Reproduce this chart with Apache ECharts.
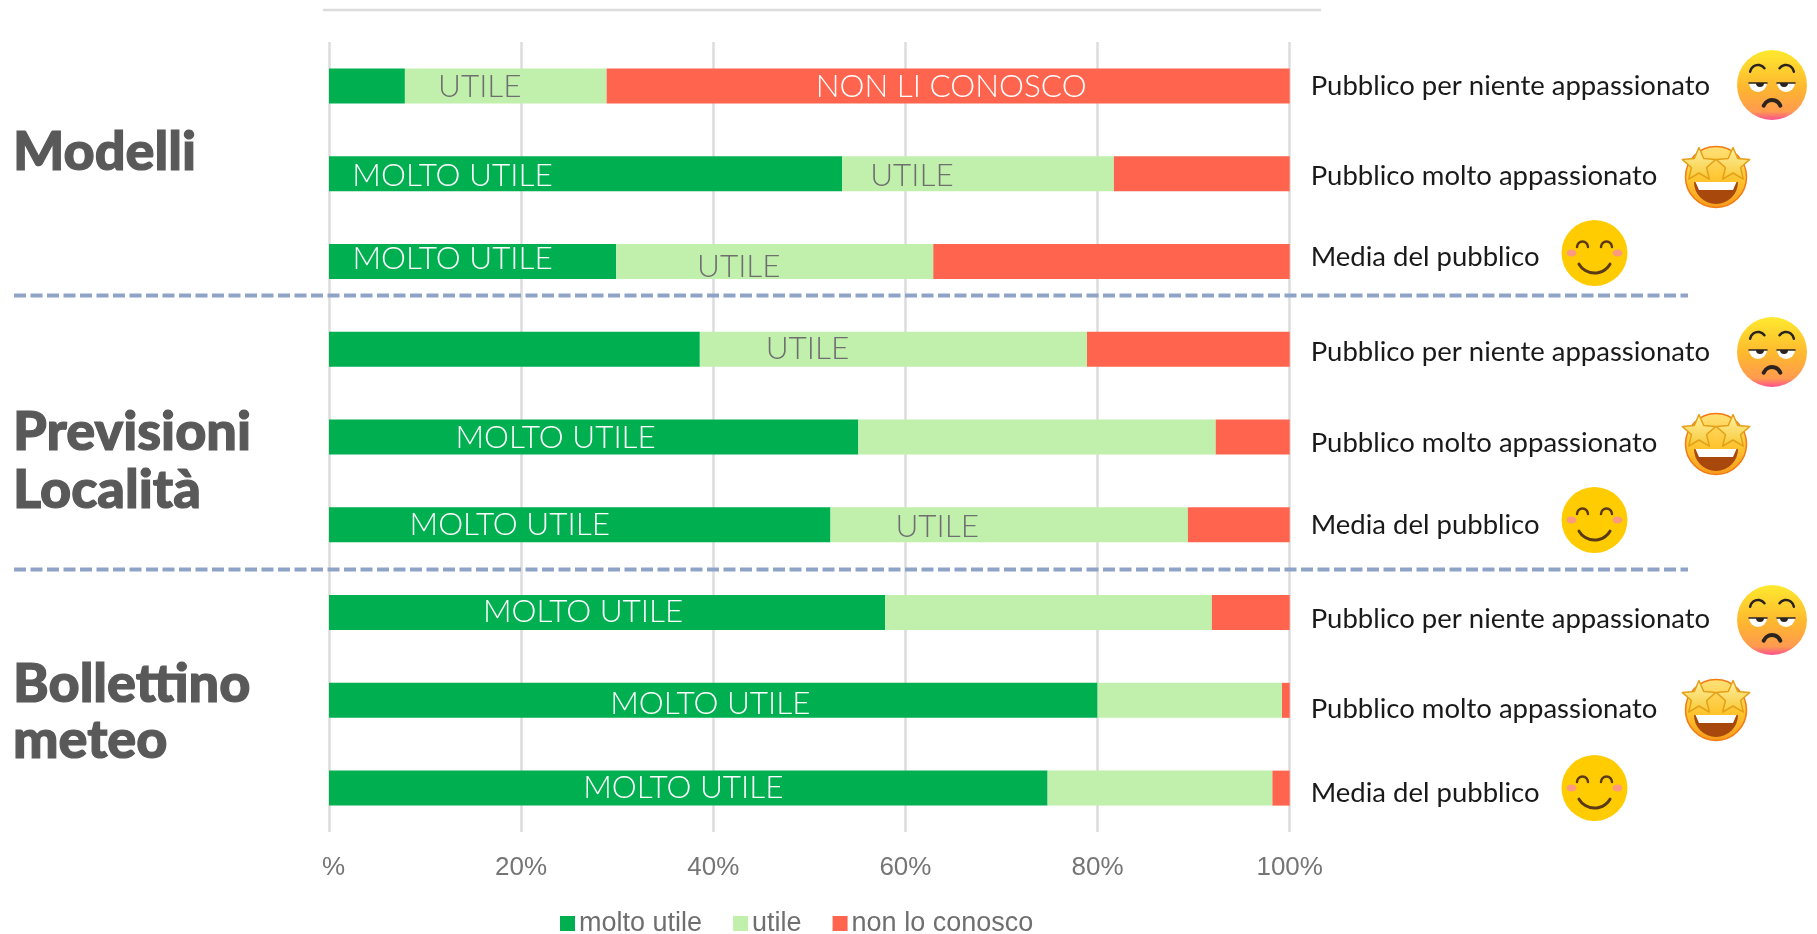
<!DOCTYPE html>
<html><head><meta charset="utf-8">
<style>html,body{margin:0;padding:0;background:#fff}#c{width:1817px;height:934px}</style>
<script src="https://cdn.jsdelivr.net/npm/echarts@6/dist/echarts.min.js"></script>
</head><body><div id="c"></div>
<script>
const audience = [
  'Pubblico per niente appassionato','Pubblico molto appassionato','Media del pubblico',
  'Pubblico per niente appassionato','Pubblico molto appassionato','Media del pubblico',
  'Pubblico per niente appassionato','Pubblico molto appassionato','Media del pubblico'];
const seriesNames = ['molto utile','utile','non lo conosco'];
const moltoUtile = [7.9,53.4,29.9,38.6,55.1,52.2,57.9,80.0,74.8];
const utile      = [21.0,28.3,33.0,40.3,37.2,37.2,34.0,19.2,23.4];
const nonConosco = [71.1,18.3,37.1,21.1,7.7,10.6,8.1,0.8,1.8];
const moltoText = ['', 'MOLTO UTILE','MOLTO UTILE','', 'MOLTO UTILE','MOLTO UTILE','MOLTO UTILE','MOLTO UTILE','MOLTO UTILE'];
const utileText = ['UTILE','UTILE','UTILE','UTILE','','UTILE','','',''];
const nonText   = ['NON LI CONOSCO','','','','','','','',''];
const xTicks = {0:'{zero|%}',20:'20%',40:'40%',60:'60%',80:'80%',100:'100%'};

// label placement (px from the segment centre), kept apart from the values
const moltoOffset = [[0,0],[-133,2],[-20,-3],[0,0],[-38,1],[-70,0],[-24,-1],[-3,4],[-5,0]];
const utileOffset = [[-26,1],[-66,2],[-36,5],[-86,0],[0,0],[-72,2],[0,0],[0,0],[0,0]];
const nonOffset   = [[3,1],[0,0],[0,0],[0,0],[0,0],[0,0],[0,0],[0,0],[0,0]];
const rowShift = [0,2,-4,3,6,0,7,9,5];

const sans = 'Lato';
function makeData(vals,texts,offs,color){
  return vals.map((v,i)=>({value:v,label:{show:!!texts[i],formatter:texts[i]||'',position:'inside',offset:offs[i],
    color:color,fontFamily:sans,fontWeight:300,fontSize:31.5}}));
}
const rich = {};
rowShift.forEach((s,i)=>{ rich['r'+i]={fontFamily:sans,fontSize:27.5,color:'#1a1a1a',
  padding:s>0?[2*s,0,0,0]:[0,0,-2*s,0]}; });

function star(cx,cy,R,r){
  const p=[];for(let i=0;i<10;i++){const a=-Math.PI/2+i*Math.PI/5,q=i%2?r:R;p.push([cx+q*Math.cos(a),cy+q*Math.sin(a)]);}
  return p;
}
const ink='#2b2320';
function sad(x,y){return {type:'group',x,y,children:[
  {type:'circle',shape:{r:35},style:{fill:{type:'linear',x:0,y:0,x2:0,y2:1,colorStops:[{offset:0,color:'#ffe92e'},{offset:.55,color:'#fdb62f'},{offset:.88,color:'#ff9a50'},{offset:1,color:'#ff4f8f'}]}}},
  {type:'arc',shape:{cx:-14,cy:-12,r:8,startAngle:Math.PI*1.05,endAngle:Math.PI*1.8},style:{stroke:ink,lineWidth:2.5,fill:null,lineCap:'round'}},
  {type:'arc',shape:{cx:14,cy:-12,r:8,startAngle:Math.PI*1.2,endAngle:Math.PI*1.95},style:{stroke:ink,lineWidth:2.5,fill:null,lineCap:'round'}},
  {type:'sector',shape:{cx:-14,cy:-2,r:9,r0:0,startAngle:0,endAngle:Math.PI},style:{fill:'#fff'}},
  {type:'sector',shape:{cx:14,cy:-2,r:9,r0:0,startAngle:0,endAngle:Math.PI},style:{fill:'#fff'}},
  {type:'sector',shape:{cx:-12,cy:-2,r:4,r0:0,startAngle:0,endAngle:Math.PI},style:{fill:ink}},
  {type:'sector',shape:{cx:12,cy:-2,r:4,r0:0,startAngle:0,endAngle:Math.PI},style:{fill:ink}},
  {type:'line',shape:{x1:-23,y1:-2,x2:-5,y2:-2},style:{stroke:ink,lineWidth:1.5,lineCap:'round'}},
  {type:'line',shape:{x1:5,y1:-2,x2:23,y2:-2},style:{stroke:ink,lineWidth:1.5,lineCap:'round'}},
  {type:'arc',shape:{cx:0,cy:24,r:9,startAngle:Math.PI*1.12,endAngle:Math.PI*1.88},style:{stroke:ink,lineWidth:4,fill:null,lineCap:'round'}}
]};}
const starFill={type:'linear',x:0,y:0,x2:0,y2:1,colorStops:[{offset:0,color:'#fff2a8'},{offset:1,color:'#f7c832'}]};
function starry(x,y){return {type:'group',x,y,children:[
  {type:'circle',shape:{r:30.5},style:{fill:{type:'linear',x:0,y:0,x2:0,y2:1,colorStops:[{offset:0,color:'#ffe27a'},{offset:.55,color:'#ffc42e'},{offset:1,color:'#f79a1c'}]},stroke:'#f47a12',lineWidth:1.5}},
  {type:'sector',shape:{cx:0,cy:5,r:22,r0:0,startAngle:0,endAngle:Math.PI},style:{fill:'#a8480c'}},
  {type:'polygon',shape:{points:[[-20.5,5],[20.5,5],[17,13],[-17,13]]},style:{fill:'#fff'}},
  {type:'polygon',shape:{points:star(-17,-12,17.5,8)},style:{fill:starFill,stroke:'#e4a018',lineWidth:1.5,lineJoin:'round'}},
  {type:'polygon',shape:{points:star(17,-12,17.5,8)},style:{fill:starFill,stroke:'#e4a018',lineWidth:1.5,lineJoin:'round'}}
]};}
function smile(x,y){return {type:'group',x,y,children:[
  {type:'circle',shape:{r:33},style:{fill:'#ffcc02'}},
  {type:'ellipse',shape:{cx:-23,cy:0,rx:5,ry:3.5},style:{fill:'#fb9a7e'}},
  {type:'ellipse',shape:{cx:23,cy:0,rx:5,ry:3.5},style:{fill:'#fb9a7e'}},
  {type:'arc',shape:{cx:-12,cy:-6,r:5.5,startAngle:Math.PI,endAngle:Math.PI*2},style:{stroke:'#5a3a14',lineWidth:2.5,fill:null,lineCap:'round'}},
  {type:'arc',shape:{cx:12,cy:-6,r:5.5,startAngle:Math.PI,endAngle:Math.PI*2},style:{stroke:'#5a3a14',lineWidth:2.5,fill:null,lineCap:'round'}},
  {type:'arc',shape:{cx:0,cy:2,r:18,startAngle:Math.PI*0.17,endAngle:Math.PI*0.83},style:{stroke:'#5a3a14',lineWidth:3,fill:null,lineCap:'round'}}
]};}
const title=(t,y)=>({type:'text',x:13,y,style:{text:t,fontFamily:sans,fontWeight:900,fontSize:54,fill:'#595959',stroke:'#595959',lineWidth:1.2,textVerticalAlign:'middle',textBaseline:'middle'}});
const dash=(y)=>({type:'line',shape:{x1:14,y1:y,x2:1688,y2:y},z:50,style:{stroke:'#8fa3c7',lineWidth:4,lineDash:[12,4.5]}});

const chart=echarts.init(document.getElementById('c'),null,{renderer:'canvas'});
chart.setOption({
  animation:false,backgroundColor:'#fff',
  grid:{left:329,top:42,width:960.7,height:790,containLabel:false},
  legend:{data:seriesNames,left:555,top:905,icon:'rect',itemWidth:15,itemHeight:15,itemGap:31,
    textStyle:{fontFamily:'Liberation Sans',fontSize:27,color:'#6f6f6f',padding:[0,0,0,-1]}},
  xAxis:{type:'value',min:0,max:100,interval:20,
    axisLine:{show:false},axisTick:{show:false},
    splitLine:{show:true,lineStyle:{color:'#dcdcdc',width:2.5}},
    axisLabel:{formatter:v=>xTicks[v],margin:23,fontFamily:'Liberation Sans',fontSize:26,color:'#757575',
      hideOverlap:false,showMinLabel:true,showMaxLabel:true,
      rich:{zero:{fontFamily:'Liberation Sans',fontSize:26,color:'#757575',padding:[0,0,0,9]}}}},
  yAxis:{type:'category',inverse:true,position:'right',data:audience,
    axisLine:{show:false},axisTick:{show:false},splitLine:{show:false},
    axisLabel:{interval:0,align:'left',margin:21,rich,
      formatter:(v,i)=>`{r${i}|${v}}`}},
  series:[
    {name:seriesNames[0],type:'bar',stack:'t',barWidth:35,itemStyle:{color:'#00b050'},data:makeData(moltoUtile,moltoText,moltoOffset,'#ffffff')},
    {name:seriesNames[1],type:'bar',stack:'t',barWidth:35,itemStyle:{color:'#c1f0ad'},data:makeData(utile,utileText,utileOffset,'#6f6f6f')},
    {name:seriesNames[2],type:'bar',stack:'t',barWidth:35,itemStyle:{color:'#ff644e'},data:makeData(nonConosco,nonText,nonOffset,'#ffffff')}
  ],
  graphic:{elements:[
    {type:'line',shape:{x1:323,y1:10,x2:1321,y2:10},style:{stroke:'#dcdcdc',lineWidth:2.5}},
    dash(295.5),dash(569.5),
    title('Modelli',153),title('Previsioni',433),title('Località',491),title('Bollettino',685),title('meteo',741),
    sad(1772,85),starry(1716,177),smile(1594.5,253),
    sad(1772,352),starry(1716,444),smile(1594.5,520),
    sad(1772,620),starry(1716,710),smile(1594.5,788)
  ]}
});
</script></body></html>
